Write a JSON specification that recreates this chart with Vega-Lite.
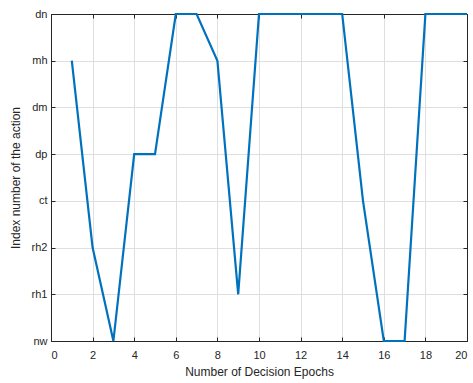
{
  "$schema": "https://vega.github.io/schema/vega-lite/v6.json",
  "width": 416,
  "height": 327,
  "autosize": {"type": "none"},
  "padding": {"left": 51, "top": 14, "right": 6, "bottom": 42},
  "background": "white",
  "config": {
    "font": "Liberation Sans",
    "view": {"stroke": "#262626", "strokeWidth": 1},
    "axis": {
      "labelFont": "Liberation Sans",
      "titleFont": "Liberation Sans",
      "labelFontSize": 11,
      "titleFontSize": 12,
      "labelColor": "#262626",
      "titleColor": "#262626",
      "titleFontWeight": "normal",
      "domainColor": "#262626",
      "tickColor": "#262626",
      "gridColor": "#dfdfdf",
      "tickSize": -4
    }
  },
  "data": {
    "values": [
      {"epoch": 1, "action": 6},
      {"epoch": 2, "action": 2},
      {"epoch": 3, "action": 0},
      {"epoch": 4, "action": 4},
      {"epoch": 5, "action": 4},
      {"epoch": 6, "action": 7},
      {"epoch": 7, "action": 7},
      {"epoch": 8, "action": 6},
      {"epoch": 9, "action": 1},
      {"epoch": 10, "action": 7},
      {"epoch": 11, "action": 7},
      {"epoch": 12, "action": 7},
      {"epoch": 13, "action": 7},
      {"epoch": 14, "action": 7},
      {"epoch": 15, "action": 3},
      {"epoch": 16, "action": 0},
      {"epoch": 17, "action": 0},
      {"epoch": 18, "action": 7},
      {"epoch": 19, "action": 7},
      {"epoch": 20, "action": 7}
    ]
  },
  "layer": [
    {
      "mark": {"type": "line", "color": "#0072BD", "strokeWidth": 2.2, "clip": false},
      "encoding": {
        "x": {
          "field": "epoch", "type": "quantitative",
          "scale": {"domain": [0, 20], "nice": false, "zero": false},
          "axis": {"values": [0,2,4,6,8,10,12,14,16,18,20], "title": "Number of Decision Epochs", "labelPadding": 12, "titlePadding": 6, "grid": true, "orient": "bottom"}
        },
        "y": {
          "field": "action", "type": "quantitative",
          "scale": {"domain": [0, 7], "nice": false},
          "axis": {
            "values": [0,1,2,3,4,5,6,7],
            "labelExpr": "['nw','rh1','rh2','ct','dp','dm','mh','dn'][datum.value]",
            "title": "Index number of the action",
            "labelPadding": 8, "titlePadding": 9, "grid": true, "orient": "left"
          }
        }
      }
    },
    {
      "mark": {"type": "line", "opacity": 0},
      "encoding": {
        "x": {
          "field": "epoch", "type": "quantitative",
          "scale": {"domain": [0, 20], "nice": false, "zero": false},
          "axis": {"values": [0,2,4,6,8,10,12,14,16,18,20], "orient": "top", "labels": false, "title": null, "grid": false}
        },
        "y": {
          "field": "action", "type": "quantitative",
          "scale": {"domain": [0, 7], "nice": false},
          "axis": {"values": [0,1,2,3,4,5,6,7], "orient": "right", "labels": false, "title": null, "grid": false}
        }
      }
    }
  ],
  "resolve": {"axis": {"x": "independent", "y": "independent"}}
}
